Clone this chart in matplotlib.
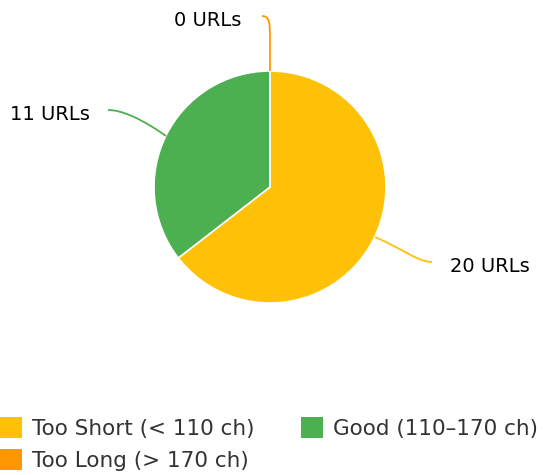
import matplotlib.pyplot as plt
from matplotlib.path import Path
from matplotlib.patches import PathPatch

categories = ["Too Short (< 110 ch)", "Good (110\u2013170 ch)", "Too Long (> 170 ch)"]
counts = [20, 11, 0]
colors = ["#FFC107", "#4CAF50", "#FF9800"]

W, H = 549, 475
fig = plt.figure(figsize=(W / 100, H / 100), dpi=100)
ax = fig.add_axes([0, 0, 1, 1])
ax.set_xlim(0, W)
ax.set_ylim(0, H)
ax.set_aspect("equal")
ax.axis("off")

cx, cy, r = 270, H - 187, 116
wedges, _ = ax.pie(counts, colors=colors, startangle=90, counterclock=False,
                   center=(cx, cy), radius=r,
                   wedgeprops=dict(edgecolor="white", linewidth=1.2))
ax.set_xlim(0, W)
ax.set_ylim(0, H)

# leader lines (cubic curves) and data labels, in pixel coords from top
def leader(pts, color):
    verts = [(x, H - y) for x, y in pts]
    codes = [Path.MOVETO] + [Path.CURVE4] * 3 + [Path.LINETO] * (len(verts) - 4)
    ax.add_patch(PathPatch(Path(verts, codes), fill=False, edgecolor=color, lw=1.3))

leader([(375, 237), (405, 250), (418, 262), (432, 262)], colors[0])
leader([(108, 110), (122, 110), (142, 119), (166, 136)], colors[1])
leader([(262, 16), (270, 16), (270, 24), (270, 40), (270, 71)], colors[2])

lab_kw = dict(fontsize=14, color="#000000", va="center")
ax.text(450, H - 267, f"{counts[0]} URLs", ha="left", **lab_kw)
ax.text(10, H - 115, f"{counts[1]} URLs", ha="left", **lab_kw)
ax.text(241, H - 21, f"{counts[2]} URLs", ha="right", **lab_kw)

order = [0, 2, 1]
leg = ax.legend([wedges[i] for i in order], [categories[i] for i in order],
                ncol=2, loc="upper left", bbox_to_anchor=(0, (H - 417) / H),
                frameon=False, fontsize=15.5, handlelength=1.02, handleheight=1.15,
                handletextpad=0.47, columnspacing=2.14, labelspacing=0.45,
                borderpad=0, borderaxespad=0)
for t in leg.get_texts():
    t.set_color("#333333")
for h in leg.legend_handles:
    h.set_edgecolor("none")

fig.savefig("out.png", dpi=100)
